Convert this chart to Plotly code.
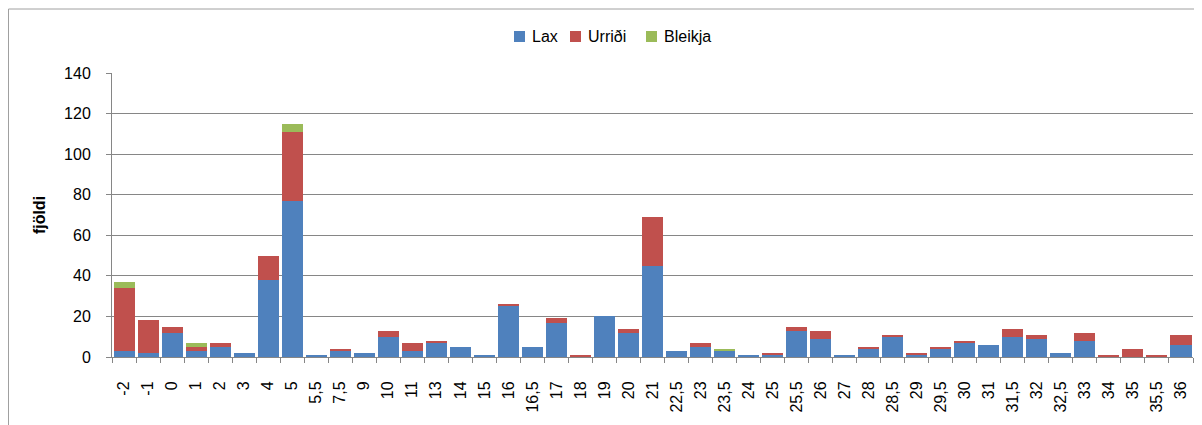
import plotly.graph_objects as go

categories = ["-2", "-1", "0", "1", "2", "3", "4", "5", "5,5", "7,5", "9", "10", "11", "13", "14",
              "15", "16", "16,5", "17", "18", "19", "20", "21", "22,5", "23", "23,5", "24", "25",
              "25,5", "26", "27", "28", "28,5", "29", "29,5", "30", "31", "31,5", "32", "32,5",
              "33", "34", "35", "35,5", "36"]

lax = [3, 2, 12, 3, 5, 2, 38, 77, 1, 3, 2, 10, 3, 7, 5, 1, 25, 5, 17, 0, 20, 12, 45, 3, 5, 3, 1, 1,
       13, 9, 1, 4, 10, 1, 4, 7, 6, 10, 9, 2, 8, 0, 0, 0, 6]
urridi = [31, 16, 3, 2, 2, 0, 12, 34, 0, 1, 0, 3, 4, 1, 0, 0, 1, 0, 2, 1, 0, 2, 24, 0, 2, 0, 0, 1,
          2, 4, 0, 1, 1, 1, 1, 1, 0, 4, 2, 0, 4, 1, 4, 1, 5]
bleikja = [3, 0, 0, 2, 0, 0, 0, 4, 0, 0, 0, 0, 0, 0, 0, 0, 0, 0, 0, 0, 0, 0, 0, 0, 0, 1, 0, 0,
           0, 0, 0, 0, 0, 0, 0, 0, 0, 0, 0, 0, 0, 0, 0, 0, 0]

series_names = ["Lax", "Urriði", "Bleikja"]
series_values = [lax, urridi, bleikja]
series_colors = ["#4F81BD", "#C0504D", "#9BBB59"]

FONT = "Liberation Sans"
FS = 16

fig = go.Figure()
for name, vals, col in zip(series_names, series_values, series_colors):
    fig.add_trace(go.Bar(x=categories, y=vals, name=name, marker_color=col,
                         marker_line_width=0, showlegend=False))

# the page has an 8px body margin; compensate
OFF = 8
W, H = 1202 - OFF, 425 - OFF
L, R, T, B = 112 - OFF, 9, 73 - OFF, 68
pw = W - L - R
ph = H - T - B


def px(x):
    return (x - OFF - L) / pw


def py(y):
    return (H - B - (y - OFF)) / ph


fig.update_layout(
    width=W, height=H,
    barmode="stack", bargap=0.125,
    paper_bgcolor="white", plot_bgcolor="white",
    margin=dict(l=L, r=R, t=T, b=B, autoexpand=False),
    font=dict(family=FONT, size=FS, color="#000000"),
    showlegend=False,
    xaxis=dict(type="category", tickangle=-90, showgrid=False, showline=True,
               linecolor="#868686", linewidth=1, ticks="outside", ticklen=5,
               tickcolor="#868686", tickson="boundaries", ticklabelstandoff=17,
               tickfont=dict(family=FONT, size=FS), range=[-0.5, len(categories) - 0.5]),
    yaxis=dict(range=[0, 140], dtick=20, showgrid=True, gridcolor="#868686", gridwidth=1,
               showline=True, linecolor="#868686", linewidth=1, ticks="outside", ticklen=5,
               tickcolor="#868686", zeroline=False, ticklabelstandoff=12,
               tickfont=dict(family=FONT, size=FS),
               title=dict(text="<b>fjöldi</b>", font=dict(family=FONT, size=FS), standoff=14)),
)

# legend (keys + labels), positioned like the reference
key_x = [514, 570, 646]
text_x = [530, 586, 662]
for name, col, kx, tx in zip(series_names, series_colors, key_x, text_x):
    fig.add_shape(type="rect", xref="paper", yref="paper",
                  x0=px(kx), x1=px(kx + 11), y0=py(42), y1=py(31),
                  line=dict(width=0), fillcolor=col)
    fig.add_annotation(xref="paper", yref="paper", x=px(tx), y=py(37), text=name,
                       showarrow=False, xanchor="left", yanchor="middle",
                       font=dict(family=FONT, size=FS, color="#000000"))

# chart border
fig.add_shape(type="rect", xref="paper", yref="paper",
              x0=(0.5 - L) / pw, x1=(W + 5 - L) / pw,
              y0=-(H + 5 - (H - B)) / ph, y1=(H - B - 1) / ph,
              line=dict(color="#A0A0A0", width=1), fillcolor="rgba(0,0,0,0)", layer="below")

fig.write_html("out.html")
